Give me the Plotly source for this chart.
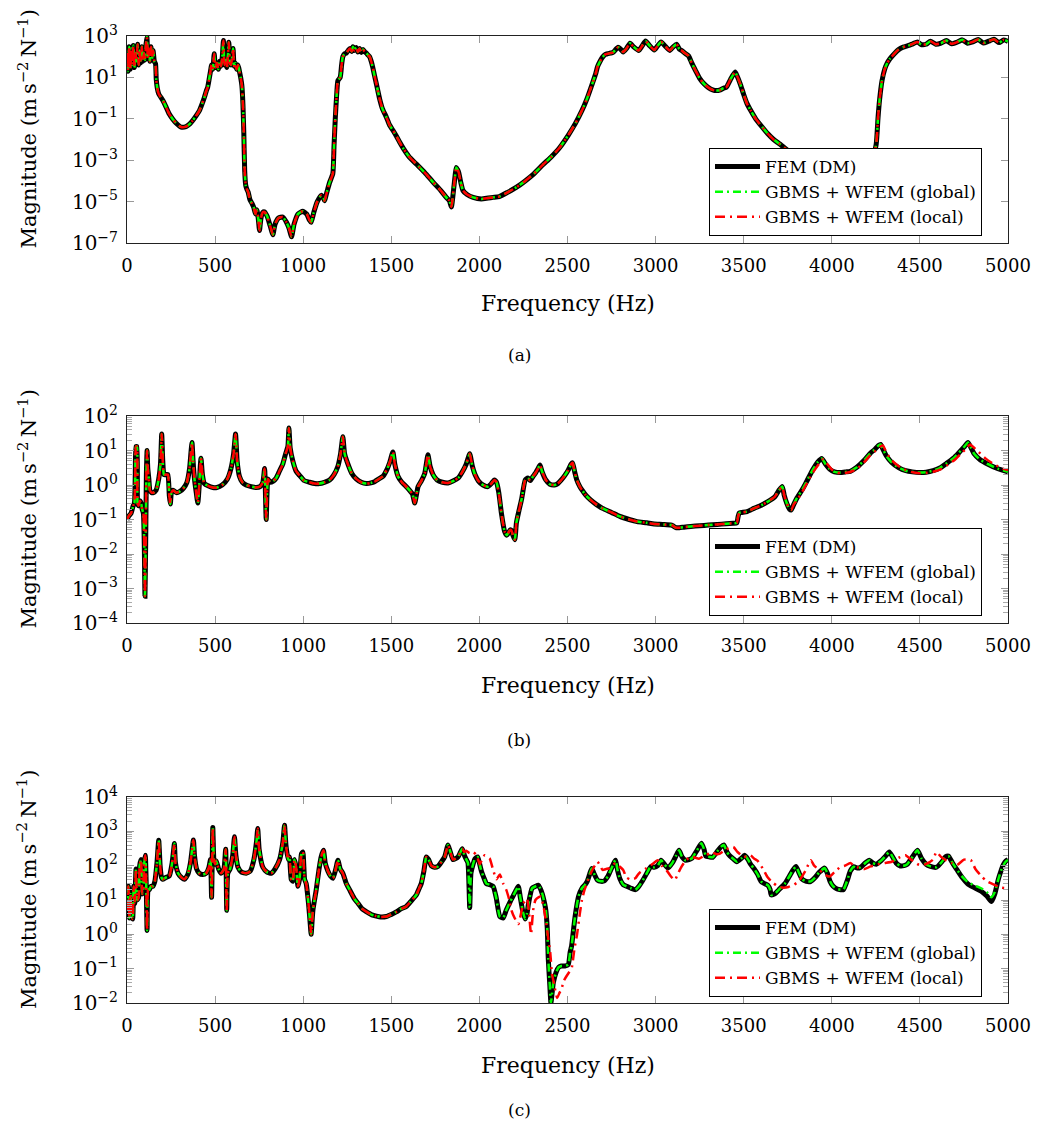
import plotly.graph_objects as go

# ---------------- Panel (a) ----------------
freq_a = [0, 6, 12, 18, 24, 30, 36, 42, 48, 54, 60, 66, 72, 78, 84, 90, 96, 102, 108, 113,
          118, 124, 130, 136, 142, 148, 155, 162, 166, 172, 180, 203, 220, 240, 260, 278, 307, 335, 355, 373,
          392, 411, 425, 439, 450, 458, 466, 473, 480, 487, 495, 502, 510, 518, 526, 534, 541, 547, 553, 560,
          567, 572, 578, 584, 590, 596, 602, 608, 615, 622, 630, 638, 645, 652, 658, 663, 668, 674, 680, 688,
          698, 710, 720, 729, 737, 745, 752, 760, 770, 780, 795, 812, 828, 840, 860, 884, 905, 920, 934, 948,
          970, 998, 1020, 1035, 1045, 1060, 1080, 1102, 1115, 1121, 1135, 1150, 1168, 1175, 1182, 1190, 1197, 1210, 1218, 1225,
          1235, 1245, 1255, 1265, 1275, 1282, 1290, 1300, 1310, 1320, 1330, 1340, 1350, 1358, 1368, 1377, 1386, 1395, 1405, 1415,
          1425, 1434, 1450, 1472, 1490, 1509, 1530, 1547, 1570, 1600, 1642, 1690, 1737, 1780, 1812, 1830, 1841, 1855, 1869, 1876,
          1883, 1895, 1907, 1930, 1964, 2011, 2050, 2078, 2113, 2160, 2211, 2260, 2309, 2360, 2406, 2455, 2504, 2545, 2582, 2612,
          2641, 2660, 2670, 2685, 2699, 2715, 2729, 2745, 2758, 2775, 2787, 2800, 2816, 2835, 2855, 2875, 2904, 2925, 2943, 2965,
          2992, 3010, 3031, 3055, 3080, 3100, 3119, 3135, 3148, 3165, 3187, 3205, 3226, 3250, 3275, 3300, 3324, 3345, 3363, 3385,
          3402, 3425, 3451, 3462, 3480, 3500, 3519, 3540, 3568, 3600, 3637, 3670, 3705, 3760, 3820, 3900, 4000, 4100, 4180, 4220,
          4252, 4262, 4271, 4285, 4301, 4315, 4330, 4355, 4379, 4405, 4437, 4460, 4486, 4510, 4535, 4560, 4590, 4620, 4650, 4680,
          4710, 4740, 4770, 4800, 4830, 4860, 4890, 4920, 4950, 4975, 5000]
fem_a = [150, 20, 300, 25, 250, 40, 350, 30, 150, 60, 400, 40, 200, 50, 300, 60, 150, 70, 400, 900,
         80, 250, 60, 300, 80, 200, 60, 45, 8, 3, 1.6, 0.78, 0.4, 0.17, 0.095, 0.063, 0.04, 0.042, 0.055, 0.083,
         0.14, 0.25, 0.5, 1.07, 2.2, 3.4, 8, 18, 40, 25, 140, 30, 50, 25, 60, 35, 100, 600, 40, 70,
         30, 90, 500, 50, 40, 80, 250, 35, 50, 25, 40, 20, 10, 4, 0.5, 0.02, 3e-4, 6e-5, 4e-5, 2.8e-5,
         1.2e-5, 8e-6, 5e-6, 2.5e-6, 4e-6, 1.5e-6, 4e-7, 1.5e-6, 3e-6, 3.2e-6, 2e-6, 7e-7, 2.5e-7, 8e-7, 1.6e-6, 1.8e-6, 1e-6, 5e-7, 2e-7, 8e-7,
         2.5e-6, 3.4e-6, 2.5e-6, 1.3e-6, 1e-6, 3e-6, 1e-5, 2e-5, 1.5e-5, 1.1e-5, 3e-5, 8.5e-5, 2.2e-4, 5e-3, 0.1, 1.5, 7, 10, 40, 100,
         140, 150, 200, 250, 180, 300, 200, 280, 170, 250, 160, 220, 170, 150, 120, 100, 60, 30, 12, 5,
         2, 0.9, 0.3, 0.12, 0.05, 0.028, 0.014, 0.0075, 0.0035, 0.0015, 6.5e-4, 2.5e-4, 8.7e-5, 3.5e-5, 1.6e-5, 1.1e-5, 5.5e-6, 5e-5, 4.5e-4, 3.5e-4,
         2.5e-4, 8e-5, 3.4e-5, 2.2e-5, 1.6e-5, 1.35e-5, 1.5e-5, 1.6e-5, 1.75e-5, 2.8e-5, 5e-5, 1e-4, 2.2e-4, 6e-4, 1.4e-3, 4e-3, 0.016, 0.06, 0.25, 1,
         5, 15, 32, 60, 95, 130, 140, 150, 160, 230, 290, 240, 170, 250, 450, 300, 200, 350, 570, 350,
         210, 320, 510, 320, 200, 300, 400, 230, 200, 150, 110, 50, 22, 9, 4.9, 3.2, 2.5, 2.3, 2.4, 3,
         3.4, 8, 18, 12, 4.9, 1.5, 0.54, 0.25, 0.1, 0.045, 0.019, 0.01, 0.006, 0.0025, 0.001, 4e-4, 1.8e-4, 1e-4, 8e-5, 4e-4,
         0.006, 0.1, 0.8, 7, 26, 50, 80, 140, 220, 290, 350, 420, 510, 380, 400, 560, 400, 450, 600, 420,
         500, 650, 450, 520, 680, 460, 560, 700, 480, 650, 550]
global_a = fem_a
local_a = fem_a

# ---------------- Panel (b) ----------------
freq_b = [0, 12, 23, 35, 42, 47, 51, 56, 60, 66, 73, 80, 86, 93, 98, 102, 106, 110, 114, 118,
          124, 130, 140, 150, 165, 180, 190, 197, 203, 210, 222, 232, 240, 246, 252, 262, 280, 300, 320, 340,
          355, 364, 369, 375, 383, 393, 402, 410, 415, 420, 428, 439, 460, 487, 510, 540, 570, 590, 605, 616,
          625, 638, 655, 676, 705, 733, 755, 771, 781, 790, 800, 812, 830, 847, 865, 884, 900, 913, 919, 926,
          941, 960, 979, 1005, 1036, 1065, 1093, 1120, 1150, 1175, 1197, 1212, 1225, 1235, 1254, 1275, 1301, 1330, 1358, 1385,
          1405, 1430, 1453, 1475, 1491, 1509, 1520, 1538, 1560, 1576, 1604, 1620, 1633, 1642, 1652, 1670, 1690, 1708, 1720, 1737,
          1760, 1790, 1822, 1850, 1880, 1905, 1925, 1945, 1960, 1975, 1995, 2020, 2049, 2068, 2085, 2097, 2110, 2125, 2143, 2155,
          2163, 2175, 2182, 2190, 2201, 2210, 2221, 2240, 2260, 2275, 2289, 2305, 2318, 2333, 2344, 2355, 2377, 2400, 2426, 2445,
          2465, 2485, 2504, 2520, 2529, 2540, 2553, 2570, 2582, 2605, 2631, 2665, 2699, 2750, 2797, 2850, 2895, 2950, 2992, 3040,
          3090, 3100, 3115, 3135, 3160, 3200, 3250, 3300, 3350, 3400, 3440, 3461, 3468, 3475, 3490, 3520, 3558, 3600, 3637, 3676,
          3700, 3719, 3730, 3744, 3760, 3770, 3785]
fem_b = [0.1, 0.13, 0.15, 0.25, 0.3, 2, 13, 13, 0.3, 0.25, 0.35, 0.3, 0.2, 0.15, 0.02, 0.0006, 0.02, 2, 10, 3,
         1.5, 0.7, 0.6, 0.6, 0.7, 1.5, 4, 30, 5, 2, 2, 2, 0.5, 0.28, 0.6, 0.7, 0.6, 0.65, 0.8, 1.2,
         3, 10, 17, 5, 1.5, 0.6, 0.3, 1, 3, 6, 2, 1.1, 0.95, 0.85, 0.85, 1, 1.5, 3, 8, 30,
         5, 1.8, 1.2, 1.0, 0.9, 0.85, 0.9, 1.2, 3, 0.1, 1.5, 1.2, 1.3, 1.6, 2.5, 4, 8, 13, 45, 12,
         5, 2.5, 1.9, 1.35, 1.2, 1.1, 1.1, 1.2, 1.4, 2, 3.5, 8, 25, 8, 4, 2.2, 1.5, 1.2, 1.1, 1.15,
         1.25, 1.5, 1.8, 2.8, 4.5, 9, 4, 1.8, 1.2, 1, 0.7, 0.55, 0.3, 0.5, 0.9, 1.3, 2.2, 7.5, 3.5, 2,
         1.4, 1.2, 1.15, 1.3, 1.6, 2.5, 4, 8, 3.5, 2, 1.3, 1, 0.9, 1.1, 1.4, 1.2, 0.6, 0.15, 0.045, 0.035,
         0.04, 0.05, 0.048, 0.035, 0.026, 0.08, 0.15, 0.4, 1.4, 1.6, 1.35, 1.8, 2.2, 3, 3.8, 2.5, 1.4, 1.05, 1, 1.1,
         1.4, 1.9, 2.7, 4, 4.4, 2.5, 1.4, 0.9, 0.72, 0.5, 0.37, 0.27, 0.21, 0.16, 0.123, 0.1, 0.087, 0.08, 0.074, 0.072,
         0.069, 0.065, 0.058, 0.058, 0.06, 0.063, 0.066, 0.069, 0.072, 0.075, 0.078, 0.08, 0.12, 0.155, 0.16, 0.17, 0.21, 0.26, 0.33, 0.45,
         0.7, 0.9, 0.5, 0.3, 0.2, 0.19, 0.28]
freq_b_fem_tail = [3800, 3830, 3851, 3875, 3891, 3920, 3943, 3965, 3988, 4015, 4047, 4080, 4105, 4140, 4184, 4220, 4242, 4265, 4277, 4290,
                   4310, 4340, 4379, 4420, 4457, 4500, 4535, 4575, 4613, 4650, 4691, 4720, 4750, 4773, 4790, 4808, 4840, 4887, 4940, 5000]
fem_b_tail = [0.4, 0.7, 1.1, 1.9, 2.7, 4.6, 5.9, 4, 2.9, 2.4, 2.3, 2.4, 2.5, 3.2, 5.2, 8.5, 10.5, 14, 15, 11,
              7, 4.5, 3.2, 2.6, 2.4, 2.3, 2.35, 2.6, 3.1, 4.2, 6, 8.5, 12.5, 17, 12, 8, 5.5, 4, 3, 2.4]
freq_b_local_tail = [3800, 3830, 3851, 3875, 3900, 3930, 3952, 3975, 4000, 4030, 4060, 4100, 4140, 4184, 4220, 4250, 4275, 4290, 4305, 4330,
                     4360, 4400, 4450, 4500, 4540, 4580, 4620, 4660, 4700, 4730, 4760, 4785, 4800, 4830, 4870, 4920, 4970, 5000]
local_b_tail = [0.35, 0.6, 0.95, 1.6, 2.6, 4.3, 5.6, 4, 2.8, 2.3, 2.2, 2.35, 2.9, 4.6, 7.5, 10, 13, 14, 10, 6,
                4.2, 3.0, 2.4, 2.2, 2.25, 2.45, 2.9, 3.9, 5.5, 7.8, 11, 15, 13, 9.5, 6, 4, 3, 2.7]

# ---------------- Panel (c) ----------------
freq_c = [0, 8, 14, 20, 26, 32, 38, 44, 51, 58, 66, 72, 80, 86, 93, 98, 104, 109, 114, 120,
          127, 136, 146, 158, 170, 180, 188, 196, 203, 220, 240, 255, 265, 269, 275, 290, 310, 326, 345, 360,
          377, 383, 395, 410, 430, 449, 465, 474, 480, 487, 493, 500, 506, 520, 534, 550, 560, 566, 572, 585,
          600, 610, 618, 630, 650, 676, 700, 720, 735, 742, 750, 771, 795, 818, 840, 866, 885, 894, 902, 915,
          922, 932, 941, 950, 960, 970, 979, 990, 998, 1008, 1017, 1030, 1040, 1045, 1055, 1074, 1090, 1102, 1115, 1125,
          1140, 1155, 1169, 1185, 1197, 1210, 1225, 1245, 1263, 1290, 1311, 1335, 1358, 1390, 1415, 1440, 1472, 1500, 1528, 1555,
          1585, 1610, 1642, 1655, 1670, 1685, 1699, 1712, 1727, 1745, 1765, 1785, 1803, 1822, 1835, 1850, 1865, 1879, 1893, 1903]
fem_c = [5, 25, 3, 15, 3.5, 2.8, 25, 8, 80, 10, 12, 100, 150, 15, 20, 120, 200, 30, 1.3, 20,
         20, 25, 25, 35, 120, 550, 100, 45, 40, 45, 50, 110, 300, 440, 120, 60, 45, 40, 55, 120,
         560, 200, 80, 60, 55, 60, 90, 150, 12, 1300, 150, 110, 140, 80, 60, 80, 300, 5, 60, 80,
         200, 690, 200, 90, 65, 60, 70, 150, 500, 1200, 300, 90, 65, 60, 80, 150, 500, 1500, 400, 150,
         180, 40, 35, 150, 90, 25, 40, 220, 250, 40, 30, 8, 2, 1, 5, 20, 80, 180, 280, 120,
         70, 50, 43, 80, 145, 80, 60, 30, 20, 11, 8, 5.5, 4.6, 3.7, 3.4, 3.2, 3.3, 3.8, 4.5, 5.5,
         6.5, 9, 14, 20, 30, 70, 180, 150, 100, 90, 95, 130, 180, 400, 250, 150, 160, 180, 250, 310]
freq_c_fem_mid = [1915, 1926, 1935, 1945, 1952, 1964, 1975, 1990, 2000, 2011, 2025, 2040, 2058, 2078, 2095, 2116, 2135, 2152, 2175, 2191,
                  2210, 2221, 2232, 2245, 2260, 2270, 2279, 2299, 2318, 2334, 2345, 2357, 2370, 2377, 2385, 2391, 2400, 2406, 2412, 2420,
                  2436, 2450, 2465, 2485, 2504, 2515, 2523, 2535, 2543, 2563, 2582, 2600, 2612, 2625, 2637, 2650, 2670, 2690, 2709, 2730,
                  2748, 2760, 2772, 2785, 2797, 2816, 2836, 2860, 2885, 2905, 2924, 2950, 2973, 2992, 3012, 3031, 3050, 3070, 3095, 3115,
                  3133, 3150, 3168, 3190, 3207, 3235, 3260, 3275, 3285, 3305, 3324, 3350, 3370, 3387, 3405, 3422, 3440, 3461, 3485, 3505,
                  3525, 3539, 3560, 3580, 3598, 3618, 3637, 3650, 3656, 3676, 3700, 3734, 3760, 3780, 3797, 3815, 3832, 3855, 3881, 3905,
                  3930, 3959, 3975, 3990, 4008, 4030, 4050, 4066, 4090, 4105, 4125, 4145, 4164, 4190, 4213, 4232, 4252, 4280, 4305, 4326,
                  4345, 4365, 4389, 4410, 4428, 4455, 4486, 4510, 4535, 4560, 4594, 4625, 4645, 4662, 4685, 4711]
fem_c_mid = [200, 150, 120, 6, 60, 110, 160, 180, 120, 70, 45, 30, 28, 25, 12, 3.3, 3, 5, 9, 13,
             20, 25, 12, 5, 2.8, 4, 8, 22, 25, 27, 22, 15, 8, 5, 1.5, 0.19, 0.03, 0.01, 0.018, 0.04,
             0.08, 0.11, 0.12, 0.12, 0.13, 0.3, 0.45, 1.5, 3.3, 13, 22, 28, 35, 55, 83, 60, 38, 35, 36, 50,
             80, 110, 145, 70, 42, 28, 25, 22, 20, 25, 35, 60, 95, 90, 100, 145, 110, 85, 120, 190,
             280, 180, 145, 150, 165, 280, 450, 300, 190, 180, 175, 260, 350, 400, 250, 190, 160, 130, 160, 200,
             150, 110, 80, 55, 35, 30, 27, 20, 14, 15, 20, 30, 50, 75, 94, 60, 40, 35, 35, 45,
             65, 85, 60, 35, 25, 21, 20, 20, 40, 70, 93, 85, 90, 120, 145, 120, 110, 140, 190, 250,
             180, 120, 98, 100, 110, 170, 280, 160, 110, 95, 90, 130, 180, 190, 120, 75]
freq_c_tail = [4740, 4770, 4800, 4848, 4880, 4906, 4925, 4945, 4960, 4975, 4990, 5000]
fem_c_tail = [45, 30, 24, 18, 13, 9, 15, 40, 70, 110, 140, 150]
global_c_tail = [48, 34, 28, 22, 17, 12, 17, 40, 70, 105, 135, 145]
freq_c_local_rest = [1915, 1926, 1945, 1964, 1985, 2002, 2015, 2030, 2045, 2059, 2078, 2097, 2116, 2135, 2152, 2170, 2182, 2200, 2221, 2240,
                     2250, 2270, 2282, 2293, 2305, 2318, 2335, 2348, 2365, 2377, 2390, 2402, 2412, 2422, 2441, 2455, 2465, 2480, 2494, 2510,
                     2523, 2540, 2553, 2570, 2582, 2597, 2612, 2625, 2641, 2655, 2670, 2685, 2699, 2720, 2738, 2760, 2777, 2795, 2816, 2835,
                     2855, 2885, 2900, 2914, 2940, 2963, 2990, 3012, 3035, 3061, 3085, 3109, 3128, 3148, 3175, 3207, 3226, 3246, 3280, 3310,
                     3324, 3345, 3363, 3400, 3441, 3465, 3500, 3520, 3539, 3560, 3578, 3610, 3637, 3665, 3695, 3720, 3754, 3785, 3812, 3850,
                     3881, 3900, 3929, 3960, 3988, 4015, 4047, 4075, 4105, 4125, 4145, 4165, 4184, 4220, 4262, 4300, 4340, 4380, 4418, 4450,
                     4496, 4530, 4574, 4594, 4620, 4652, 4680, 4711, 4750, 4789, 4815, 4848, 4880, 4926, 4960, 5000]
local_c_rest = [250, 270, 230, 250, 200, 110, 150, 200, 180, 160, 75, 40, 55, 30, 20, 10, 5, 3, 2, 5,
                8, 11, 4, 1, 5, 10, 12, 12.5, 6, 2.6, 0.8, 0.3, 0.07, 0.04, 0.014, 0.02, 0.025, 0.045, 0.06, 0.08,
                0.1, 0.4, 0.9, 4, 10, 20, 32, 50, 75, 100, 130, 100, 75, 80, 85, 110, 118, 95, 75, 45,
                40, 43, 55, 65, 80, 95, 120, 145, 100, 75, 50, 38, 60, 95, 150, 180, 170, 160, 200, 230,
                240, 215, 220, 300, 350, 250, 180, 190, 200, 160, 140, 80, 45, 32, 25, 23, 24, 28, 35, 70,
                145, 100, 75, 55, 48, 65, 90, 100, 120, 100, 90, 85, 80, 95, 110, 120, 130, 170, 200, 150,
                105, 110, 150, 250, 180, 140, 120, 105, 150, 145, 80, 50, 35, 27, 23, 22]

# ---------------- assemble series ----------------
panels = [
    dict(fem=(freq_a, fem_a), glob=(freq_a, global_a), loc=(freq_a, local_a)),
    dict(fem=(freq_b + freq_b_fem_tail, fem_b + fem_b_tail),
         glob=(freq_b + freq_b_fem_tail, fem_b + fem_b_tail),
         loc=(freq_b + freq_b_local_tail, fem_b + local_b_tail)),
    dict(fem=(freq_c + freq_c_fem_mid + freq_c_tail, fem_c + fem_c_mid + fem_c_tail),
         glob=(freq_c + freq_c_fem_mid + freq_c_tail, fem_c + fem_c_mid + global_c_tail),
         loc=(freq_c + freq_c_local_rest, fem_c + local_c_rest)),
]
for p in panels:
    for k in p:
        assert len(p[k][0]) == len(p[k][1]), (k, len(p[k][0]), len(p[k][1]))

y_ranges = [(-7, 3), (-4, 2), (-2, 4)]
y_major = [[-7, -5, -3, -1, 1, 3], [-4, -3, -2, -1, 0, 1, 2], [-2, -1, 0, 1, 2, 3, 4]]
captions = ["(a)", "(b)", "(c)"]

# layout geometry (pixels)
W, H = 1039, 1133
ML, MR, MT, MB = 127, 31, 36, 130
PW, PH = W - ML - MR, H - MT - MB
bottom_px = MT + PH
panel_px = [(36, 243), (416, 623), (797, 1003)]
xtitle_px = [303, 685, 1065]
caption_px = [355, 740, 1110]
legend_bottom_px = [236, 616, 997]
legend_right_px = 982


def py(px):
    return (bottom_px - px) / PH


def pxx(px):
    return (px - ML) / PW


FONT = "DejaVu Serif"
fig = go.Figure()
annotations = []
layout = {}

for i, p in enumerate(panels):
    n = "" if i == 0 else str(i + 1)
    xa, ya = "x" + n, "y" + n
    leg = "legend" + n
    fig.add_trace(go.Scatter(x=p["fem"][0], y=p["fem"][1], mode="lines", name="FEM (DM)",
                             line=dict(color="black", width=5, shape="spline", smoothing=0.5),
                             xaxis=xa, yaxis=ya, legend=leg))
    fig.add_trace(go.Scatter(x=p["glob"][0], y=p["glob"][1], mode="lines", name="GBMS + WFEM (global)",
                             line=dict(color="#00ff00", width=2.5, dash="8px,4px,2px,4px", shape="spline", smoothing=0.5),
                             xaxis=xa, yaxis=ya, legend=leg))
    fig.add_trace(go.Scatter(x=p["loc"][0], y=p["loc"][1], mode="lines", name="GBMS + WFEM (local)",
                             line=dict(color="#ff0000", width=2.5, dash="10px,5px,2px,5px", shape="spline", smoothing=0.5),
                             xaxis=xa, yaxis=ya, legend=leg))

    top, bot = panel_px[i]
    lo, hi = y_ranges[i]
    minor_vals = [m * 10 ** d for d in range(lo, hi) for m in range(2, 10)]
    layout["xaxis" + n] = dict(
        domain=[0, 1], anchor=ya, range=[0, 5000], tickmode="array",
        tickvals=list(range(0, 5001, 500)), ticks="inside", ticklen=7, tickcolor="#999",
        showline=True, linecolor="#222", linewidth=1, mirror="ticks", showgrid=False, zeroline=False,
        tickfont=dict(family=FONT, size=18, color="black"), ticklabelstandoff=6,
    )
    layout["yaxis" + n] = dict(
        domain=[py(bot), py(top)], anchor=xa, type="log", range=[lo, hi],
        tickmode="array", tickvals=[10 ** v for v in y_major[i]],
        ticktext=["10<sup>%s</sup>" % (str(v).replace("-", "\u2212")) for v in y_major[i]],
        ticks="inside", ticklen=7, tickcolor="#999",
        minor=dict(tickmode="array", tickvals=minor_vals if i > 0 else [], ticks="inside",
                   ticklen=5, tickcolor="#aaa", showgrid=False),
        showline=True, linecolor="#222", linewidth=1, mirror="ticks", showgrid=False, zeroline=False,
        tickfont=dict(family=FONT, size=20, color="black"), ticklabelstandoff=4,
    )
    layout[leg] = dict(
        x=pxx(legend_right_px), xanchor="right", y=py(legend_bottom_px[i]), yanchor="bottom",
        bgcolor="white", bordercolor="black", borderwidth=1,
        font=dict(family=FONT, size=17, color="black"), itemwidth=45, tracegroupgap=0,
    )
    annotations.append(dict(text="Frequency (Hz)", x=0.5, y=py(xtitle_px[i]), xref="paper", yref="paper",
                            showarrow=False, xanchor="center", yanchor="middle",
                            font=dict(family=FONT, size=22, color="black")))
    annotations.append(dict(text="Magnitude (m\u2009s<sup>\u22122</sup>\u2009N<sup>\u22121</sup>)",
                            x=pxx(27), y=py((top + bot) / 2 - 10), xref="paper", yref="paper",
                            textangle=-90, showarrow=False, xanchor="center", yanchor="middle",
                            font=dict(family=FONT, size=21, color="black")))
    annotations.append(dict(text=captions[i], x=pxx(519), y=py(caption_px[i]), xref="paper", yref="paper",
                            showarrow=False, xanchor="center", yanchor="middle",
                            font=dict(family=FONT, size=17, color="black")))

fig.update_layout(
    width=W, height=H, margin=dict(l=ML, r=MR, t=MT, b=MB, autoexpand=False),
    plot_bgcolor="white", paper_bgcolor="white", showlegend=True,
    font=dict(family=FONT, color="black"),
    annotations=annotations, **layout,
)
fig.write_html("out.html", config={"displayModeBar": False},
               post_script="document.body.style.margin='0';document.body.style.padding='0';")
